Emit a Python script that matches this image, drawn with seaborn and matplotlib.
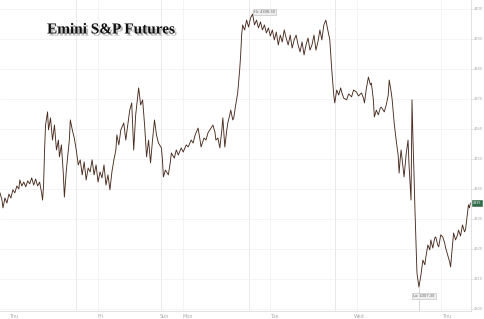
import matplotlib
matplotlib.use("Agg")
import matplotlib.pyplot as plt
import matplotlib.patheffects as pe
import seaborn as sns
import pandas as pd

# ---- data (bar index ~15-min bars, price) ----
bars = [0,2,3,5,7,9,11,13,15,17,19,20,22,24,26,28,30,32,34,36,38,40,42,43,44,45,46,48,49,51,
        53,55,57,59,60,62,64,65,67,69,70,71,73,75,77,79,81,83,85,87,89,91,93,95,97,99,101,103,105,107,
        109,111,113,115,117,118,120,122,125,127,129,131,133,135,137,140,142,144,146,148,150,152,154,156,158,160,163,164,165,167,
        170,172,173,176,178,180,183,185,188,190,193,195,197,200,202,203,206,208,210,213,215,217,218,220,222,224,225,227,229,230,
        232,233,235,236,238,240,242,243,244,245,247,249,251,253,255,257,259,261,263,265,267,269,271,273,275,277,279,281,283,285,
        287,289,291,293,295,297,299,301,303,305,307,309,311,313,315,317,319,321,323,325,327,329,331,333,335,337,338,340,342,344,
        345,347,350,352,355,357,360,362,365,367,368,370,372,374,375,377,378,380,382,384,385,388,390,392,393,395,396,398,400,402,
        403,404,405,407,408,410,412,413,415,416,417,418,419,420,421,422,423,425,427,429,430,432,434,435,437,439,440,442,443,445,
        447,449,450,452,454,455,456,458,460,462,463,465,467,469,470,471,473,474,475]
prices = [4338.7,4336.3,4333.7,4337.0,4335.3,4338.3,4337.0,4339.7,4338.7,4341.0,4340.0,4343.0,4341.0,4342.3,4340.7,4342.7,4341.7,4343.7,4341.3,4343.3,4341.0,4342.3,4338.7,4336.3,4341.3,4353.0,4361.3,4365.7,4359.7,4363.7,
          4356.3,4361.3,4353.0,4356.3,4350.7,4354.7,4344.7,4337.3,4346.3,4353.0,4356.3,4363.0,4359.7,4357.0,4353.0,4348.0,4349.7,4344.7,4349.0,4343.0,4347.0,4345.7,4349.7,4344.7,4348.0,4342.3,4345.7,4343.7,4348.0,4341.3,
          4344.7,4339.7,4345.7,4349.7,4353.0,4358.0,4354.7,4359.7,4362.0,4356.3,4361.3,4366.3,4368.7,4353.0,4364.7,4373.7,4368.0,4369.7,4361.3,4350.7,4356.3,4348.7,4356.3,4363.0,4358.0,4355.3,4353.7,4349.7,4344.0,4346.3,
          4344.7,4349.0,4352.0,4350.3,4353.0,4351.3,4353.7,4352.3,4354.7,4354.0,4356.3,4355.3,4358.0,4360.3,4356.3,4354.0,4357.0,4356.3,4358.7,4360.3,4361.3,4359.0,4356.3,4357.0,4353.7,4359.7,4363.7,4354.0,4359.7,4362.0,
          4364.7,4366.3,4363.0,4363.7,4368.0,4372.0,4379.7,4384.7,4391.3,4394.7,4393.0,4396.3,4394.0,4397.0,4398.3,4394.7,4396.3,4393.7,4395.7,4393.0,4394.7,4392.0,4393.7,4391.0,4393.0,4389.7,4392.3,4388.0,4391.3,4389.0,
          4393.0,4390.3,4388.0,4391.3,4387.0,4389.7,4391.3,4388.0,4385.7,4389.0,4384.7,4388.0,4390.3,4386.3,4388.0,4391.3,4386.3,4389.0,4393.0,4389.7,4394.7,4396.3,4393.0,4389.7,4379.7,4371.3,4368.7,4373.0,4371.3,4373.7,
          4372.3,4370.3,4369.7,4371.7,4370.7,4373.0,4372.3,4371.0,4372.0,4370.3,4368.7,4373.7,4377.3,4374.7,4375.3,4369.7,4364.0,4366.3,4364.7,4367.0,4367.3,4365.7,4368.0,4371.3,4376.3,4372.3,4369.7,4362.0,4356.3,4351.3,
          4345.3,4349.7,4353.0,4347.0,4344.0,4351.3,4356.3,4348.0,4336.3,4369.7,4356.3,4345.3,4333.0,4323.0,4312.0,4309.7,4307.3,4311.3,4316.3,4314.7,4317.3,4321.3,4319.7,4323.0,4320.3,4323.7,4324.0,4321.3,4320.7,4324.7,
          4324.0,4322.0,4320.3,4318.0,4315.7,4314.0,4318.0,4325.3,4323.0,4324.7,4326.3,4324.3,4328.0,4325.7,4326.3,4329.0,4334.7,4333.7,4335.3]

day_labels = ["Thu", "Fri", "Sun", "Mon", "Tue", "Wed", "Thu"]
day_label_pos = [14, 101, 166, 190, 277, 363, 451]
major_grid = [77, 163, 251, 338]
minor_grid = [99, 185, 273, 360, 445]
y_ticks = [4300, 4310, 4320, 4330, 4340, 4350, 4360, 4370, 4380, 4390, 4400]
hi_bar, hi_price = 255, 4398.3
lo_bar, lo_price = 423, 4307.3

df = pd.DataFrame({"bar": bars, "price": prices})

sns.set_theme(style="white")
fig = plt.figure(figsize=(4.85, 3.19), dpi=100)
ax = fig.add_axes([0.0, 0.025, 0.972, 0.975])

for g in major_grid:
    ax.axvline(g, color="#e4e4e4", lw=0.6, zorder=0)
for g in minor_grid:
    ax.axvline(g, color="#f0f0f0", lw=0.5, zorder=0)
for t in y_ticks:
    ax.axhline(t, color="#f0f0f0", lw=0.5, zorder=0)

sns.lineplot(data=df, x="bar", y="price", ax=ax, color="#4a2c20", lw=0.65, zorder=3)

ax.set_xlim(0, 476)
ax.set_ylim(4299.3, 4403)
ax.set_xlabel("")
ax.set_ylabel("")
ax.yaxis.tick_right()
ax.set_yticks(y_ticks)
ax.set_yticklabels([str(t) for t in y_ticks], fontsize=2.6, color="#aaaaaa")
ax.set_xticks(day_label_pos)
ax.set_xticklabels(day_labels, fontsize=3.5, color="#aaaaaa")
ax.tick_params(axis="both", length=1.2, width=0.4, color="#cccccc", pad=0.8)
for s in ["top", "left"]:
    ax.spines[s].set_visible(False)
for s in ["right", "bottom"]:
    ax.spines[s].set_color("#dddddd")
    ax.spines[s].set_linewidth(0.6)

# Hi / Lo annotations
ax.annotate(f"Hi: {hi_price:.2f}", xy=(hi_bar, hi_price), xytext=(hi_bar + 12, 4399.0),
            fontsize=2.6, color="#666666", ha="center", va="center",
            bbox=dict(boxstyle="square,pad=0.3", fc="#eeeeee", ec="#bbbbbb", lw=0.4))
ax.plot([lo_bar, lo_bar], [4299.3, lo_price], color="#999999", lw=0.4, ls=(0, (2, 1)), zorder=2)
ax.annotate(f"Lo: {lo_price:.2f}", xy=(lo_bar, lo_price), xytext=(lo_bar + 5, 4304.3),
            fontsize=2.6, color="#666666", ha="center", va="center",
            bbox=dict(boxstyle="square,pad=0.3", fc="#eeeeee", ec="#bbbbbb", lw=0.4))

# last price marker
ax.annotate(f"{prices[-1]:.0f}", xy=(1.0, prices[-1]), xycoords=("axes fraction", "data"),
            xytext=(1, 0), textcoords="offset points", fontsize=2.4, color="white",
            ha="left", va="center", annotation_clip=False,
            bbox=dict(boxstyle="square,pad=0.25", fc="#2f6b47", ec="#2f6b47", lw=0.4))

fig.text(0.097, 0.906, "Emini S&P Futures", fontsize=11, fontweight="bold",
         family=["Liberation Serif", "DejaVu Serif"], color="#111111", va="center", ha="left",
         path_effects=[pe.withSimplePatchShadow(offset=(1.5, -1.5), shadow_rgbFace="#777777", alpha=0.5)])

fig.savefig("out.png", dpi=100)
